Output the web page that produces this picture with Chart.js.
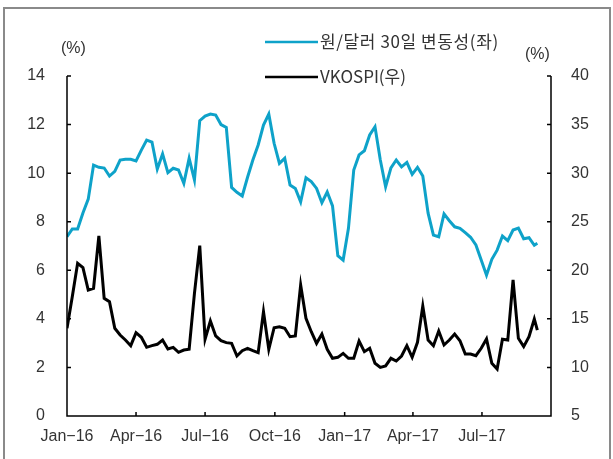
<!DOCTYPE html>
<html>
<head>
<meta charset="utf-8">
<script src="https://cdn.jsdelivr.net/npm/chart.js@4"></script>
<style>
  body { margin: 0; background: #fff; }
  #wrap { width: 613px; height: 459px; position: relative; }
</style>
</head>
<body>
<div id="wrap"><canvas id="myChart" width="613" height="459"></canvas></div>
<script>
// data (weekly)

const startDate = '2016-01-01'
const lastDate = '2017-09-12'
const axisEnd = '2017-09-30'

const krwVol = [7.38, 7.70, 7.70, 8.36, 8.93, 10.33, 10.24, 10.21, 9.88, 10.07,
  10.54, 10.57, 10.57, 10.50, 10.95, 11.36, 11.28, 10.17, 10.79, 10.02,
  10.20, 10.13, 9.58, 10.61, 9.72, 12.16, 12.35, 12.43, 12.39, 12.00,
  11.88, 9.41, 9.21, 9.06, 9.83, 10.54, 11.16, 11.98, 12.43, 11.23,
  10.40, 10.61, 9.51, 9.37, 8.82, 9.81, 9.65, 9.37, 8.78, 9.22,
  8.65, 6.60, 6.42, 7.73, 10.13, 10.75, 10.92, 11.57, 11.91, 10.54,
  9.44, 10.22, 10.54, 10.26, 10.44, 9.95, 10.24, 9.88, 8.35, 7.45,
  7.38, 8.32, 8.04, 7.79, 7.73, 7.55, 7.36, 7.04, 6.42, 5.80,
  6.45, 6.83, 7.41, 7.22, 7.66, 7.74, 7.30, 7.34, 7.03, 7.11]

const vkospi = [14.03, 17.3, 20.72, 20.27, 17.97, 18.15, 23.53, 17.12, 16.77, 14.03,
  13.34, 12.82, 12.24, 13.58, 13.10, 12.07, 12.24, 12.38, 12.82, 11.90,
  12.07, 11.56, 11.79, 11.87, 17.63, 22.53, 12.90, 14.78, 13.24, 12.75,
  12.55, 12.48, 11.18, 11.72, 11.97, 11.72, 11.52, 15.74, 11.87, 14.09,
  14.19, 14.03, 13.16, 13.24, 18.49, 15.06, 13.68, 12.48, 13.44, 11.87,
  10.94, 11.04, 11.45, 10.94, 10.94, 12.72, 11.62, 11.97, 10.43, 10.01,
  10.15, 10.94, 10.66, 11.18, 12.24, 11.04, 12.59, 16.32, 12.82, 12.24,
  13.75, 12.31, 12.82, 13.44, 12.75, 11.38, 11.38, 11.21, 11.97, 12.93,
  10.43, 9.84, 12.90, 12.82, 19.00, 13.00, 12.14, 13.16, 14.99, 13.85]

const tickDates = ['2016-01-01', '2016-04-01', '2016-07-01', '2016-10-01', '2017-01-01', '2017-04-01', '2017-07-01']
const tickLabels = ['Jan\u221216', 'Apr\u221216', 'Jul\u221216', 'Oct\u221216', 'Jan\u221217', 'Apr\u221217', 'Jul\u221217']

const seriesNames = ['원/달러 30일 변동성(좌)', 'VKOSPI(우)']
const blue = '#0ea2c9'

// day offsets from start
const dayOf = s => (new Date(s) - new Date(startDate)) / 86400000
const days = krwVol.map((v, i) => i * 7)
days[days.length - 1] = dayOf(lastDate)
const tickDays = tickDates.map(dayOf)

const FONT = '"Liberation Sans", Arial, "Noto Sans CJK KR", sans-serif'
const TXT = '#333'

// axis lines, inward ticks, legend, units
const framePlugin = {
  id: 'frame',
  afterDraw(chart) {
    const ctx = chart.ctx
    const a = chart.chartArea
    const x = chart.scales.x, yl = chart.scales.y, yr = chart.scales.y2
    ctx.save()
    // outer border
    ctx.strokeStyle = '#8a8a8a'
    ctx.lineWidth = 2
    ctx.strokeRect(4, 8, 606, 460)

    ctx.strokeStyle = '#000'
    ctx.lineWidth = 1.5
    ctx.beginPath()
    ctx.moveTo(a.left, a.top); ctx.lineTo(a.left, a.bottom); ctx.lineTo(a.right, a.bottom); ctx.lineTo(a.right, a.top)
    yl.ticks.forEach(t => {
      const p = yl.getPixelForValue(t.value)
      ctx.moveTo(a.left, p); ctx.lineTo(a.left + 4, p)
    })
    yr.ticks.forEach(t => {
      const p = yr.getPixelForValue(t.value)
      ctx.moveTo(a.right, p); ctx.lineTo(a.right - 4, p)
    })
    x.ticks.forEach(t => {
      const p = x.getPixelForValue(t.value)
      ctx.moveTo(p, a.bottom); ctx.lineTo(p, a.bottom - 4)
    })
    ctx.stroke()

    // units
    ctx.fillStyle = TXT
    ctx.font = '16px ' + FONT
    ctx.textBaseline = 'middle'
    ctx.textAlign = 'left'
    ctx.fillText('(%)', 61, 49)
    ctx.fillText('(%)', 525, 55)

    // legend
    const items = [[seriesNames[0], blue, 42, '0.6px'], [seriesNames[1], '#000', 77, '0px']]
    items.forEach(([name, col, ly, sp]) => {
      ctx.strokeStyle = col
      ctx.lineWidth = 2.5
      ctx.beginPath(); ctx.moveTo(265, ly); ctx.lineTo(318, ly); ctx.stroke()
      ctx.fillStyle = TXT
      ctx.font = '17px "Noto Sans CJK KR", ' + FONT
      ctx.letterSpacing = sp
      ctx.fillText(name, 320, ly)
    })
    ctx.restore()
  }
}

const ctx = document.getElementById('myChart').getContext('2d')
const myChart = new Chart(ctx, {
  type: 'line',
  data: {
    datasets: [{
      label: seriesNames[0],
      data: krwVol.map((v, i) => ({ x: days[i], y: v })),
      borderColor: blue,
      borderWidth: 3,
      pointRadius: 0,
      tension: 0,
      yAxisID: 'y',
    },
    {
      label: seriesNames[1],
      data: vkospi.map((v, i) => ({ x: days[i], y: v })),
      borderColor: '#000',
      borderWidth: 3,
      pointRadius: 0,
      tension: 0,
      yAxisID: 'y2',
    }]
  },
  options: {
    responsive: false,
    animation: false,
    layout: { padding: { top: 76, left: 0, right: 0, bottom: 0 } },
    plugins: { legend: { display: false }, tooltip: { enabled: false } },
    scales: {
      x: {
        type: 'linear',
        min: 0,
        max: dayOf(axisEnd),
        grid: { display: false },
        border: { display: false },
        afterBuildTicks: s => { s.ticks = tickDays.map(v => ({ value: v })) },
        afterFit: s => { s.height = 43 },
        ticks: {
          autoSkip: false,
          maxRotation: 0,
          padding: 3,
          color: TXT,
          font: { family: FONT, size: 16 },
          callback: v => tickLabels[tickDays.indexOf(v)]
        }
      },
      y: {
        position: 'left',
        min: 0, max: 14,
        grid: { display: false },
        border: { display: false },
        afterFit: s => { s.width = 67 },
        ticks: { stepSize: 2, padding: 14, color: TXT, font: { family: FONT, size: 16 } }
      },
      y2: {
        position: 'right',
        min: 5, max: 40,
        grid: { display: false },
        border: { display: false },
        afterFit: s => { s.width = 62 },
        ticks: { stepSize: 5, padding: 12, color: TXT, font: { family: FONT, size: 16 } }
      }
    }
  },
  plugins: [framePlugin]
})
</script>
</body>
</html>
